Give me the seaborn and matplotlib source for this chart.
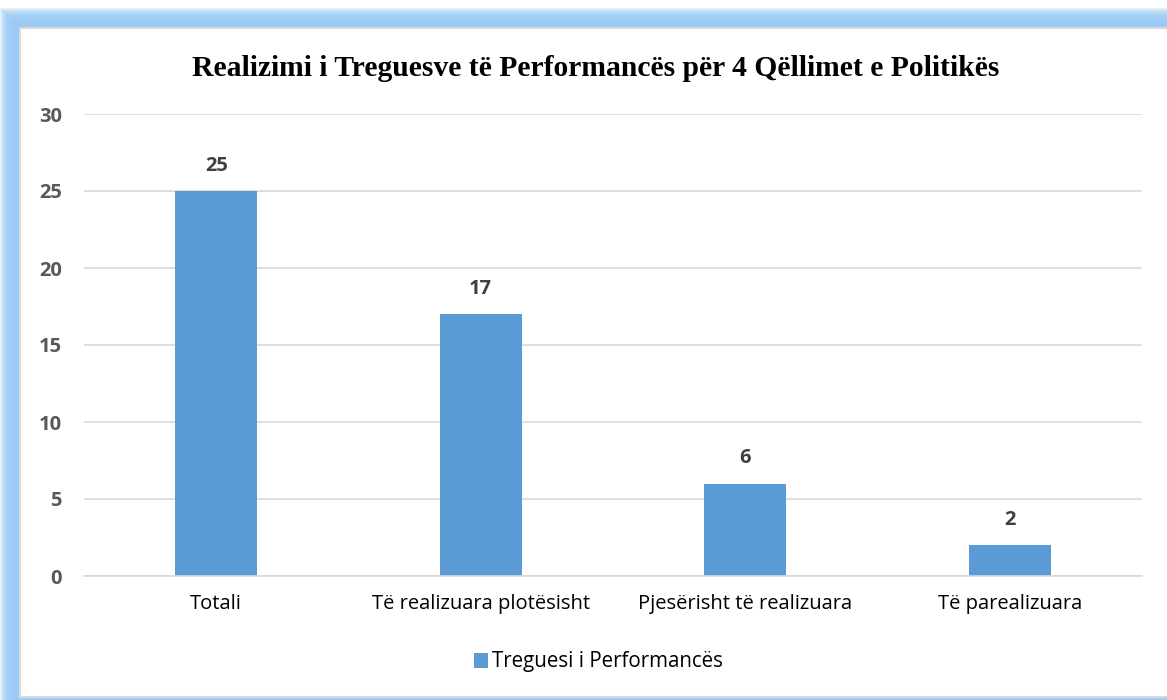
import matplotlib.pyplot as plt
import seaborn as sns
import pandas as pd
from matplotlib.patches import Rectangle

categories = ['Totali', 'Të realizuara plotësisht', 'Pjesërisht të realizuara', 'Të parealizuara']
values = [25, 17, 6, 2]
series_name = 'Treguesi i Performancës'
title = 'Realizimi i Treguesve të Performancës për 4 Qëllimet e Politikës'

df = pd.DataFrame({'Kategoria': categories, 'Vlera': values, 'Seria': series_name})

sns.set_theme(style='white')
plt.rcParams['font.family'] = ['Open Sans', 'DejaVu Sans']

fig = plt.figure(figsize=(11.67, 7), dpi=100)
fig.patch.set_facecolor('white')

# blue glow around the chart panel (top and left)
W, H = 1167, 700
for i in range(20):
    pad = 20 - i
    fig.patches.append(Rectangle(((20 - pad) / W, 0), 1, (700 - 28 + pad) / H,
                                 transform=fig.transFigure, facecolor='#9bcbf5',
                                 edgecolor='none', alpha=0.22, zorder=0))
fig.patches.append(Rectangle((20 / W, 3 / H), 1, (700 - 28 - 3) / H,
                             transform=fig.transFigure, facecolor='white',
                             edgecolor='#d9d9d9', linewidth=1.5, zorder=1))

ax = fig.add_axes([84 / W, 1 - 576 / H, (1142 - 84) / W, (576 - 114) / H])
ax.set_zorder(2)
ax.patch.set_alpha(0)

sns.barplot(data=df, x='Kategoria', y='Vlera', hue='Seria', palette=['#5b9bd5'],
            saturation=1, width=0.31, edgecolor='none', linewidth=0, ax=ax, legend=False)

for c in ax.containers:
    ax.bar_label(c, padding=11, fontsize=14.5, fontweight='bold', color='#404040')

ax.set_ylim(0, 30)
ax.set_yticks(range(0, 31, 5))
ax.grid(axis='y', color='#d9d9d9', linewidth=1.2)
ax.set_axisbelow(True)
for s in ['top', 'right', 'left']:
    ax.spines[s].set_visible(False)
ax.spines['bottom'].set_color('#d9d9d9')
ax.spines['bottom'].set_linewidth(1.2)
ax.set_xlabel('')
ax.set_ylabel('')
ax.tick_params(axis='y', length=0, pad=16, labelsize=14.5, labelcolor='#595959')
ax.tick_params(axis='x', length=0, pad=13, labelsize=14.5, labelcolor='#000000')
for lab in ax.get_yticklabels():
    lab.set_fontweight('bold')

fig.text(596 / W, 1 - 68 / H, title, ha='center', va='center', fontsize=21.3,
         fontweight='bold', color='black',
         family=['Liberation Serif', 'DejaVu Serif'], zorder=3)

# legend
fig.patches.append(Rectangle((474 / W, 1 - 668 / H), 14 / W, 15 / H,
                             transform=fig.transFigure, facecolor='#5b9bd5',
                             edgecolor='none', zorder=3))
fig.text(492 / W, 1 - 661 / H, series_name, ha='left', va='center', fontsize=14.8,
         color='#000000', zorder=3)

fig.savefig('out.png', dpi=100)
